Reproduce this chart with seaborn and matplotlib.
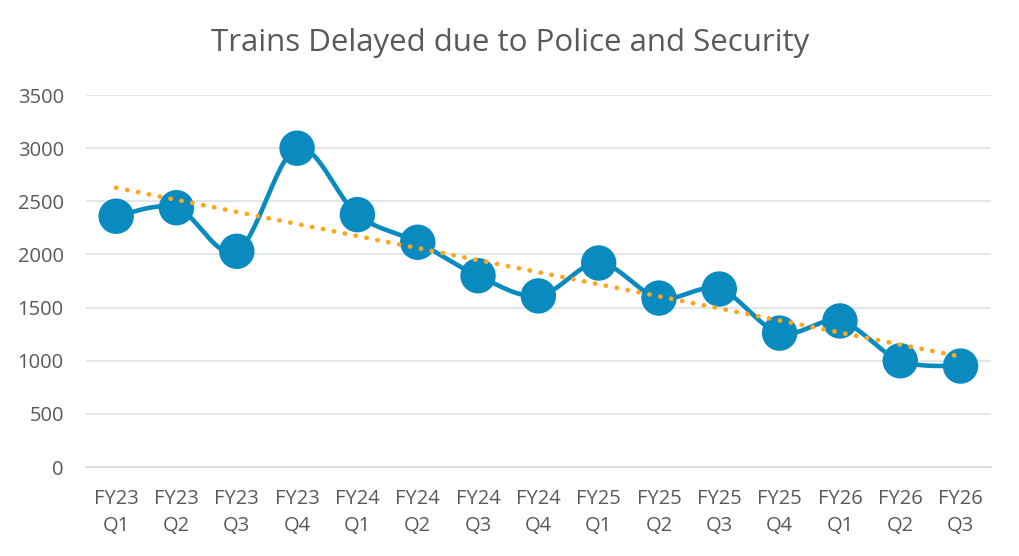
import numpy as np
import pandas as pd
import matplotlib
matplotlib.use("Agg")
import matplotlib.pyplot as plt
import seaborn as sns

categories = ["FY23\nQ1", "FY23\nQ2", "FY23\nQ3", "FY23\nQ4",
              "FY24\nQ1", "FY24\nQ2", "FY24\nQ3", "FY24\nQ4",
              "FY25\nQ1", "FY25\nQ2", "FY25\nQ3", "FY25\nQ4",
              "FY26\nQ1", "FY26\nQ2", "FY26\nQ3"]
delays = [2360, 2440, 2030, 3000, 2375, 2115, 1800, 1610,
          1920, 1590, 1675, 1260, 1375, 1000, 950]
y_ticks = [0, 500, 1000, 1500, 2000, 2500, 3000, 3500]

sns.set_theme(style="white")
plt.rcParams["font.family"] = ["Open Sans", "DejaVu Sans"]

df = pd.DataFrame({"x": np.arange(len(categories)), "y": delays})

fig = plt.figure(figsize=(10.2, 5.56), dpi=100)
ax = fig.add_axes([0.0843, 0.160, 0.887, 0.669])

# smooth line (Catmull-Rom through the data points, like Excel smoothing)
x = df["x"].to_numpy(float)
y = df["y"].to_numpy(float)
px = np.concatenate([[x[0]], x, [x[-1]]])
py = np.concatenate([[y[0]], y, [y[-1]]])
sx, sy = [], []
t = np.linspace(0, 1, 30)
for i in range(1, len(px) - 2):
    p0, p1, p2, p3 = (np.array([px[j], py[j]]) for j in (i - 1, i, i + 1, i + 2))
    c1 = p1 + (p2 - p0) / 6
    c2 = p2 - (p3 - p1) / 6
    seg = ((1 - t)[:, None] ** 3 * p1 + 3 * ((1 - t) ** 2 * t)[:, None] * c1
           + 3 * ((1 - t) * t ** 2)[:, None] * c2 + (t ** 3)[:, None] * p2)
    sx.extend(seg[:, 0]); sy.extend(seg[:, 1])
ax.plot(sx, sy, color="#0A8BC0", lw=3.3, zorder=3, solid_capstyle="round")

sns.scatterplot(data=df, x="x", y="y", s=650, color="#0A8BC0",
                edgecolor="none", ax=ax, zorder=4)

# linear trendline
coef = np.polyfit(x, y, 1)
trend = pd.DataFrame({"x": [x[0], x[-1]], "y": np.polyval(coef, [x[0], x[-1]])})
ax.plot(trend["x"], trend["y"], color="#FFA51F", lw=3.4,
        linestyle=(0, (0.05, 2.3)), dash_capstyle="round", zorder=5)

ax.set_xlim(-0.5, len(categories) - 0.5)
ax.set_ylim(0, 3500)
ax.set_yticks(y_ticks)
ax.set_xticks(x)
ax.set_xticklabels(categories, linespacing=1.45)
ax.yaxis.grid(True, color="#DDE2E4", lw=1.2)
ax.set_axisbelow(True)
for s in ["top", "right", "left"]:
    ax.spines[s].set_visible(False)
ax.spines["bottom"].set_color("#D9D9D9")
ax.tick_params(axis="both", length=0, labelsize=14.5, labelcolor="#595959")
ax.tick_params(axis="y", pad=16)
ax.tick_params(axis="x", pad=16)
ax.set_xlabel("")
ax.set_ylabel("")
fig.text(0.5, 0.922, "Trains Delayed due to Police and Security", ha="center",
         va="center", fontsize=22.5, color="#595959")

fig.savefig("out.png", dpi=100)
